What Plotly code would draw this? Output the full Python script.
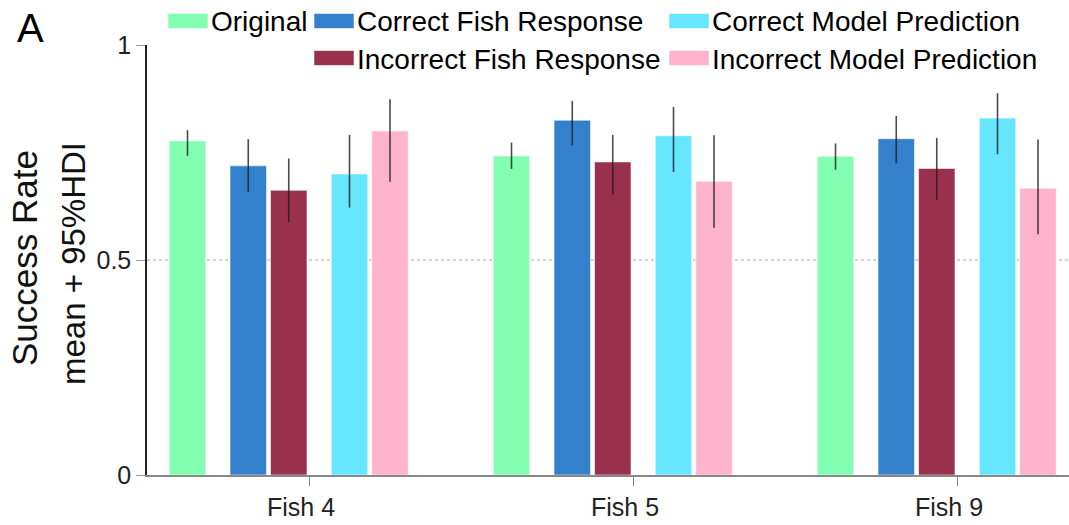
import plotly.graph_objects as go

# ---- data -------------------------------------------------------------
groups = ["Fish 4", "Fish 5", "Fish 9"]

series = [
    "Original",
    "Correct Fish Response",
    "Incorrect Fish Response",
    "Correct Model Prediction",
    "Incorrect Model Prediction",
]

# posterior mean success rate, one value per fish
mean_original = [0.777, 0.742, 0.741]
mean_correct_fish = [0.719, 0.825, 0.782]
mean_incorrect_fish = [0.662, 0.728, 0.713]
mean_correct_model = [0.700, 0.789, 0.830]
mean_incorrect_model = [0.800, 0.683, 0.667]

# 95% highest density interval bounds
hdi_low_original = [0.742, 0.712, 0.710]
hdi_high_original = [0.802, 0.773, 0.771]
hdi_low_correct_fish = [0.658, 0.767, 0.725]
hdi_high_correct_fish = [0.781, 0.870, 0.835]
hdi_low_incorrect_fish = [0.588, 0.653, 0.639]
hdi_high_incorrect_fish = [0.736, 0.791, 0.784]
hdi_low_correct_model = [0.622, 0.705, 0.746]
hdi_high_correct_model = [0.791, 0.856, 0.888]
hdi_low_incorrect_model = [0.682, 0.575, 0.560]
hdi_high_incorrect_model = [0.874, 0.790, 0.780]

y_ticks = [0, 0.5, 1]
y_tick_labels = ["0", "0.5", "1"]

means = [mean_original, mean_correct_fish, mean_incorrect_fish,
         mean_correct_model, mean_incorrect_model]
lows = [hdi_low_original, hdi_low_correct_fish, hdi_low_incorrect_fish,
        hdi_low_correct_model, hdi_low_incorrect_model]
highs = [hdi_high_original, hdi_high_correct_fish, hdi_high_incorrect_fish,
         hdi_high_correct_model, hdi_high_incorrect_model]

# ---- styling ----------------------------------------------------------
colors = ["#82FFB0", "#3380CC", "#99304D", "#66E6FF", "#FFB3CC"]
group_step = 8.0
bar_offsets = [-3.0, -1.5, -0.5, 1.0, 2.0]
bar_width = 0.9

W, H = 1069, 525
ML, MR, MT, MB = 147, 0, 45, 50
PW, PH = W - ML - MR, H - MT - MB


def px(xp):
    return (xp - ML) / PW


def py(yp):
    return (H - MB - yp) / PH


group_pos = [i * group_step for i in range(len(groups))]

fig = go.Figure()
for name, col, off, m, lo, hi in zip(series, colors, bar_offsets, means, lows, highs):
    fig.add_trace(go.Bar(
        x=[g + off for g in group_pos],
        y=m,
        width=bar_width,
        name=name,
        marker=dict(color=col, line=dict(color="rgba(255,255,255,0.55)", width=1)),
        error_y=dict(
            type="data",
            symmetric=False,
            array=[h - v for h, v in zip(hi, m)],
            arrayminus=[v - l for v, l in zip(m, lo)],
            color="rgba(30,30,30,0.8)",
            thickness=1.6,
            width=0,
        ),
        showlegend=False,
    ))

shapes = [
    dict(type="line", xref="paper", yref="y", x0=0, x1=1, y0=0.5, y1=0.5,
         line=dict(color="#a8a8a8", width=1, dash="dot"), layer="below"),
]
annotations = []

# legend laid out in two rows above the axes
legend_items = [
    ("Original", colors[0], 168, 21),
    ("Correct Fish Response", colors[1], 314, 21),
    ("Correct Model Prediction", colors[3], 669, 21),
    ("Incorrect Fish Response", colors[2], 314, 58),
    ("Incorrect Model Prediction", colors[4], 669, 58),
]
for label, col, x0, yc in legend_items:
    shapes.append(dict(type="rect", xref="paper", yref="paper",
                       x0=px(x0), x1=px(x0 + 40), y0=py(yc - 7.5), y1=py(yc + 7.5),
                       fillcolor=col, line=dict(color="rgba(255,255,255,0.55)", width=1)))
    annotations.append(dict(xref="paper", yref="paper", x=px(x0 + 41), y=py(yc + 1),
                            text=label, showarrow=False, xanchor="left", yanchor="middle",
                            font=dict(family="Liberation Sans, Arial", size=28, color="#000")))

# panel letter
annotations.append(dict(xref="paper", yref="paper", x=px(30), y=py(28), text="A",
                        showarrow=False, xanchor="center", yanchor="middle",
                        font=dict(family="Liberation Sans, Arial", size=40, color="#000")))

# y-axis title, two lines
annotations.append(dict(xref="paper", yref="paper", x=px(24), y=py(258), text="Success Rate",
                        showarrow=False, xanchor="center", yanchor="middle", textangle=-90,
                        font=dict(family="Liberation Sans, Arial", size=35, color="#111")))
annotations.append(dict(xref="paper", yref="paper", x=px(73), y=py(264), text="mean + 95%HDI",
                        showarrow=False, xanchor="center", yanchor="middle", textangle=-90,
                        font=dict(family="Liberation Sans, Arial", size=33, color="#111")))

fig.update_layout(
    width=W, height=H,
    margin=dict(l=ML, r=MR, t=MT, b=MB, pad=0),
    plot_bgcolor="white", paper_bgcolor="white",
    barmode="overlay",
    shapes=shapes,
    annotations=annotations,
    xaxis=dict(
        range=[-4.0, 18.765],
        tickvals=group_pos, ticktext=groups,
        ticks="outside", ticklen=9, tickcolor="#888", tickwidth=1,
        ticklabelshift=-8,
        showline=True, linecolor="#888", linewidth=1.5,
        showgrid=False, zeroline=False,
        tickfont=dict(family="Liberation Sans, Arial", size=25, color="#222"),
    ),
    yaxis=dict(
        range=[0, 1],
        tickvals=y_ticks, ticktext=y_tick_labels,
        ticks="outside", ticklen=9, tickcolor="#999", tickwidth=1,
        showline=True, linecolor="#222", linewidth=1.5,
        showgrid=False, zeroline=False,
        tickfont=dict(family="Liberation Sans, Arial", size=25, color="#222"),
    ),
)

fig.write_html("out.html")
